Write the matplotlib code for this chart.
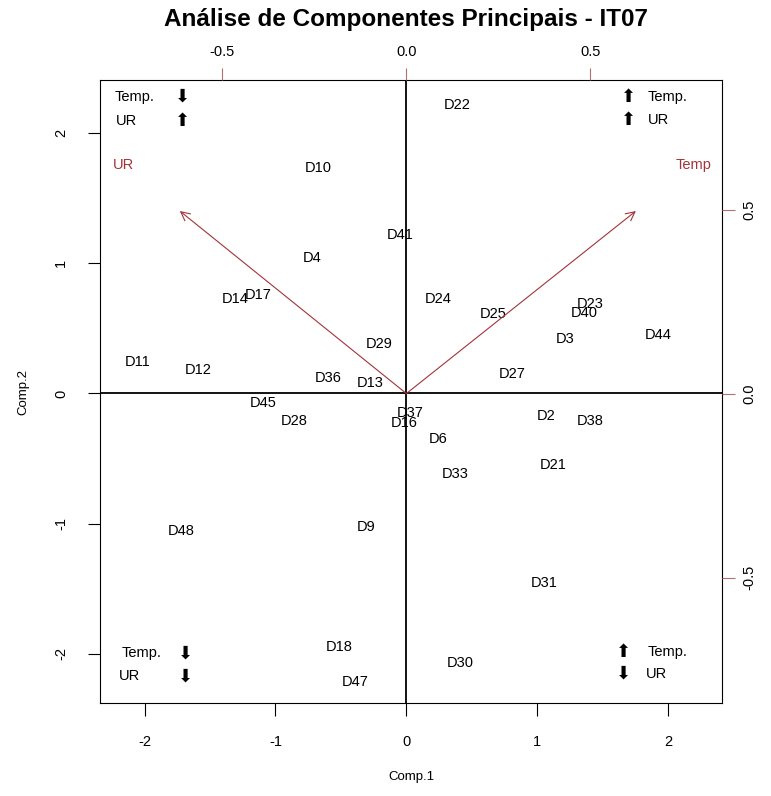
import matplotlib
matplotlib.use('Agg')
import matplotlib.pyplot as plt

plt.rcParams['font.family'] = ['Liberation Sans', 'DejaVu Sans']
plt.rcParams['axes.unicode_minus'] = False

# scores (Comp.1, Comp.2) for each day
dias = ['D22', 'D10', 'D41', 'D4', 'D17', 'D14', 'D24', 'D25', 'D23', 'D40',
        'D3', 'D44', 'D29', 'D11', 'D12', 'D27', 'D36', 'D13', 'D45', 'D28',
        'D37', 'D16', 'D2', 'D38', 'D6', 'D33', 'D21', 'D48', 'D9', 'D31',
        'D18', 'D30', 'D47']
comp1 = [0.39, -0.67, -0.05, -0.72, -1.13, -1.31, 0.24, 0.66, 1.40, 1.36,
         1.21, 1.92, -0.21, -2.05, -1.59, 0.81, -0.60, -0.28, -1.09, -0.86,
         0.03, -0.02, 1.07, 1.40, 0.24, 0.37, 1.12, -1.72, -0.31, 1.05,
         -0.51, 0.41, -0.39]
comp2 = [2.22, 1.73, 1.22, 1.04, 0.76, 0.73, 0.73, 0.61, 0.69, 0.62,
         0.42, 0.45, 0.38, 0.24, 0.18, 0.15, 0.12, 0.08, -0.07, -0.21,
         -0.15, -0.23, -0.17, -0.21, -0.35, -0.62, -0.55, -1.06, -1.03, -1.46,
         -1.95, -2.07, -2.22]

# loadings (variables)
variaveis = ['Temp', 'UR']
load1 = [0.78, -0.77]
load2 = [0.62, 0.62]

cor_var = '#a3333a'

fig = plt.figure(figsize=(7.71, 7.96), dpi=100)
ax = fig.add_axes([0.1297, 0.1168, 0.8067, 0.7827])

for nome, x, y in zip(dias, comp1, comp2):
    ax.text(x, y, nome, ha='center', va='center', fontsize=10.5)

ax.axhline(0, color='black', lw=1.3)
ax.axvline(0, color='black', lw=1.3)

ax.set_xlim(-2.34, 2.41)
ax.set_ylim(-2.38, 2.41)
ax.set_xticks([-2, -1, 0, 1, 2])
ax.set_yticks([-2, -1, 0, 1, 2])
ax.tick_params(direction='out', length=9, labelsize=10.5)
ax.tick_params(axis='x', pad=14)
ax.tick_params(axis='y', pad=14)
for lab in ax.get_yticklabels():
    lab.set_rotation(90)
    lab.set_va('center')
ax.set_xlabel('Comp.1', fontsize=9.5, labelpad=16)
ax.set_ylabel('Comp.2', fontsize=9.5, labelpad=18)

# eixos das cargas (topo e direita)
ax2 = fig.add_axes(ax.get_position(), frameon=False)
ax2.set_xlim(-0.833, 0.858)
ax2.set_ylim(-0.841, 0.852)
ax2.xaxis.tick_top()
ax2.yaxis.tick_right()
ax2.set_xticks([-0.5, 0.0, 0.5])
ax2.set_yticks([-0.5, 0.0, 0.5])
ax2.set_xticklabels(['-0.5', '0.0', '0.5'])
ax2.set_yticklabels(['-0.5', '0.0', '0.5'], rotation=90, va='center')
ax2.tick_params(direction='out', length=9, labelsize=10.5, color='#b07070')
ax2.tick_params(axis='x', pad=6)
ax2.tick_params(axis='y', pad=6)

for nome, x, y in zip(variaveis, load1, load2):
    ax2.annotate('', xy=(0.8 * x, 0.8 * y), xytext=(0, 0),
                 arrowprops=dict(arrowstyle='->', color=cor_var, lw=0.8,
                                 mutation_scale=16, shrinkA=0, shrinkB=0))
    ax2.text(x, y, nome, color=cor_var, ha='center', va='center', fontsize=10.5)

# legendas dos quadrantes
quadrantes = [
    (0.024, 0.973, 'Temp.', 0.132, '⬇'),
    (0.026, 0.934, 'UR', 0.132, '⬆'),
    (0.881, 0.973, 'Temp.', 0.849, '⬆'),
    (0.881, 0.936, 'UR', 0.849, '⬆'),
    (0.034, 0.080, 'Temp.', 0.137, '⬇'),
    (0.031, 0.043, 'UR', 0.138, '⬇'),
    (0.881, 0.082, 'Temp.', 0.842, '⬆'),
    (0.878, 0.047, 'UR', 0.842, '⬇'),
]
for tx, ty, txt, sx, seta in quadrantes:
    ax.text(tx, ty, txt, transform=ax.transAxes, ha='left', va='center', fontsize=10.5)
    ax.text(sx, ty, seta, transform=ax.transAxes, ha='center', va='center',
            fontsize=13, family='DejaVu Sans')

fig.text(0.527, 0.976, 'Análise de Componentes Principais - IT07',
         ha='center', va='center', fontsize=17.5, fontweight='bold')

plt.savefig('out.png', dpi=100)
